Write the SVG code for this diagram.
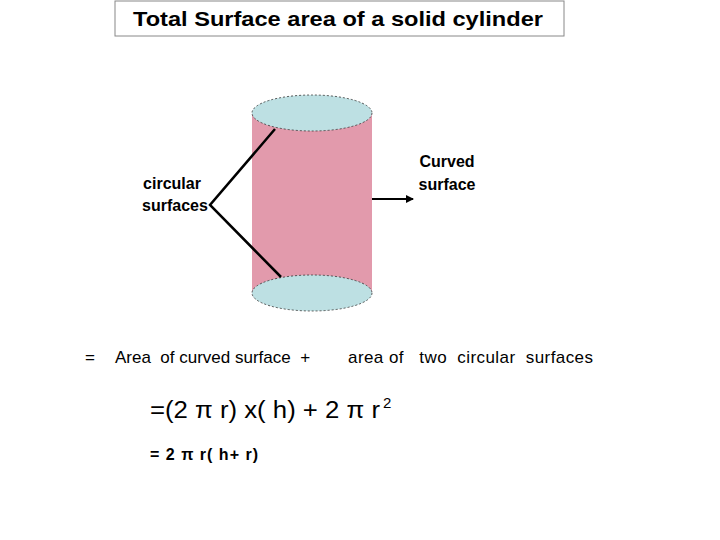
<svg xmlns="http://www.w3.org/2000/svg" width="720" height="540" viewBox="0 0 720 540">
<style>
text{font-family:"Liberation Sans",Arial,sans-serif;fill:#000;white-space:pre}
.b{font-weight:bold;font-size:16px}
.cap{fill:#bde0e3;stroke:#333;stroke-width:0.8;stroke-dasharray:2 2}
.ln{stroke:#000;stroke-width:2.5;fill:none}
</style>
<defs><marker id="ah" markerWidth="8" markerHeight="8" refX="7" refY="4" orient="auto" markerUnits="userSpaceOnUse"><path d="M0,0 L8,4 L0,8 z" fill="#000"/></marker></defs>
<rect width="720" height="540" fill="#fff"/>
<g id="title"><rect x="115" y="1" width="449" height="35" fill="#fff" stroke="#888"/><text x="338" y="26" font-size="21" font-weight="bold" text-anchor="middle" textLength="410" lengthAdjust="spacingAndGlyphs">Total Surface area of a solid cylinder</text></g>
<g id="cylinder">
<rect x="252" y="113" width="120" height="180" fill="#e29aac"/>
<ellipse class="cap" cx="312" cy="293" rx="60" ry="18"/>
<ellipse class="cap" cx="312" cy="113" rx="60" ry="18"/>
</g>
<g id="connectors">
<path class="ln" d="M275,129 L210,205 L281,277"/>
<line x1="372" y1="199" x2="413" y2="199" stroke="#000" stroke-width="2" marker-end="url(#ah)"/>
</g>
<g id="lbl-circ"><text class="b" x="172" y="189" text-anchor="middle">circular</text><text class="b" x="175" y="211" text-anchor="middle">surfaces</text></g>
<g id="lbl-curved"><text class="b" x="447" y="167" text-anchor="middle">Curved</text><text class="b" x="447" y="190" text-anchor="middle">surface</text></g>
<g id="formulas">
<text x="85" y="363" font-size="17">=</text>
<text x="115" y="363" font-size="17" xml:space="preserve">Area  of curved surface  +</text>
<text x="348" y="363" font-size="17" xml:space="preserve" textLength="245">area of   two  circular  surfaces</text>
<text x="150" y="418" font-size="23" textLength="230" lengthAdjust="spacingAndGlyphs">=(2 π r) x( h) + 2 π r</text>
<text x="383" y="408" font-size="15">2</text>
<text class="b" x="150" y="460" font-size="16" textLength="108">= 2 π r( h+ r)</text>
</g>
</svg>
